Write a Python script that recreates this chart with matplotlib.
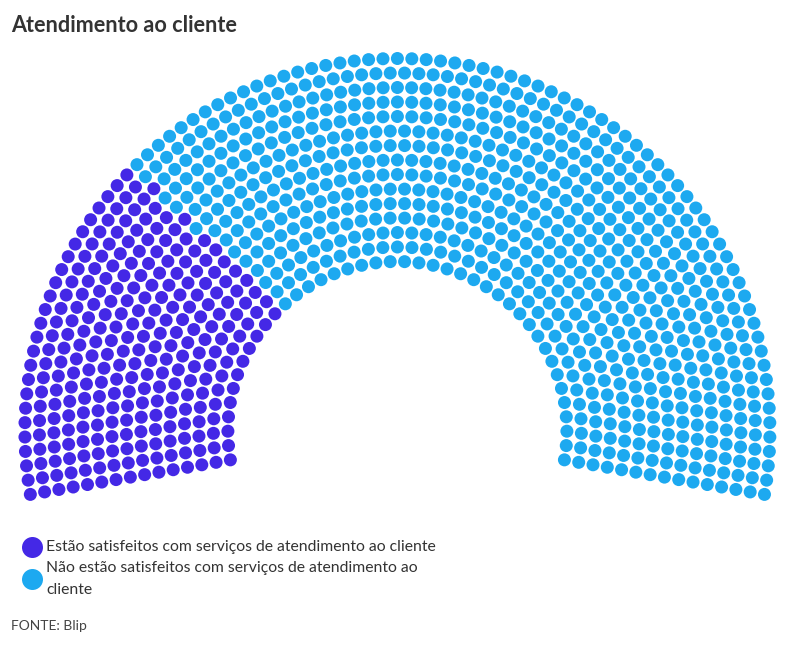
import numpy as np
import matplotlib
matplotlib.use('Agg')
import matplotlib.pyplot as plt

plt.rcParams['font.family'] = ['Lato', 'DejaVu Sans']

# dados
title = 'Atendimento ao cliente'
labels = ['Estão satisfeitos com serviços de atendimento ao cliente',
          'Não estão satisfeitos com serviços de atendimento ao\ncliente']
counts = [280, 720]
colors = ['#4428e6', '#1da9f0']
source = 'FONTE: Blip'

n_rows = 15
total = sum(counts)

# geometria do semicirculo (px)
cx, cy = 397.4, 431.0
r_in, r_out = 169.5, 372.5
start_deg, end_deg = 189.8, -9.8
dot_d = 13.0

radii = np.linspace(r_in, r_out, n_rows)
per_row = np.round(total * radii / radii.sum()).astype(int)
diff = total - per_row.sum()
order = np.argsort(-radii)
for k in range(abs(diff)):
    per_row[order[k % n_rows]] += np.sign(diff)

xs, ys, angs = [], [], []
for r, n in zip(radii, per_row):
    a = np.linspace(np.radians(start_deg), np.radians(end_deg), n)
    xs.extend(cx + r * np.cos(a))
    ys.extend(cy - r * np.sin(a))
    angs.extend(a)
xs = np.array(xs)
ys = np.array(ys)
idx = np.argsort(-np.array(angs), kind='stable')

seat_colors = np.empty(total, dtype=object)
pos = 0
for c, col in zip(counts, colors):
    seat_colors[idx[pos:pos + c]] = col
    pos += c

fig = plt.figure(figsize=(7.94, 6.45), dpi=100)
ax = fig.add_axes([0, 0, 1, 1])
ax.set_xlim(0, 794)
ax.set_ylim(645, 0)
ax.axis('off')

s = (dot_d * 72 / 100) ** 2
ax.scatter(xs, ys, s=s, c=list(seat_colors), linewidths=0)

ax.text(11, 25, title, fontsize=15.6, fontweight='bold', color='#333333',
        va='center', ha='left')

leg_y = [547, 579]
for y, lab, col in zip(leg_y, labels, colors):
    ax.scatter([32], [y], s=(21 * 0.72) ** 2, c=col, linewidths=0)
    ax.text(46, y, lab, fontsize=11.3, color='#333333',
            va='center', ha='left', linespacing=1.65)

ax.text(11, 626, source, fontsize=10, color='#444444', va='center', ha='left')

fig.savefig('out.png', dpi=100)
